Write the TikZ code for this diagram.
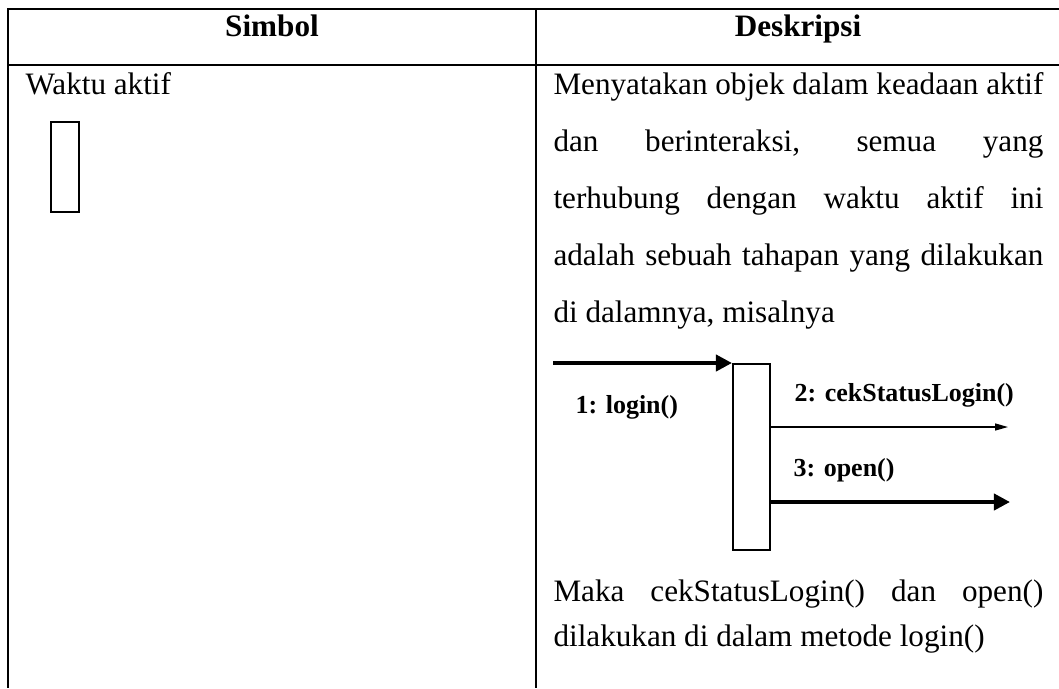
\documentclass[tikz,border=0pt]{standalone}
\usepackage{fontspec}
\setmainfont{Liberation Serif}
\usetikzlibrary{arrows.meta,positioning,calc}
\newcommand{\jl}[1]{\makebox[188.6pt][s]{#1}}

\begin{document}
\begin{tikzpicture}[x=0.385pt,y=-0.385pt,
    grid/.style={line width=0.8pt},
    body/.style={anchor=base west,inner sep=0pt,font=\fontsize{12}{14}\selectfont},
    head/.style={anchor=base,inner sep=0pt,font=\fontsize{12}{14}\selectfont\bfseries},
    msg/.style={anchor=base west,inner sep=0pt,font=\fontsize{10}{12}\selectfont\bfseries},
    call/.style={line width=1.5pt,-{Triangle[length=6.2pt,width=6.2pt]}},
    thincall/.style={line width=0.5pt,-{Triangle[length=5pt,width=2.7pt]}}]
  \useasboundingbox (0,0) rectangle (1059,688);
  % table
  \draw[grid] (1059,9) -- (8,9) -- (8,688);
  \draw[grid] (8,65) -- (1059,65);
  \draw[grid] (536,9) -- (536,688);
  \node[head] (hsym) at (272,36) {Simbol};
  \node[head] (hdes) at (798,36) {Deskripsi};
  % symbol column
  \node[body] (sym) at (25,94) {Waktu aktif};
  \draw[grid] (51,122) rectangle (79,212);
  % description column
  \node[body] (d1) at (553,94) {\jl{Menyatakan objek dalam keadaan aktif}};
  \node[body] (d2) at (553,151) {\jl{dan berinteraksi, semua yang}};
  \node[body] (d3) at (553,208) {\jl{terhubung dengan waktu aktif ini}};
  \node[body] (d4) at (553,265) {\jl{adalah sebuah tahapan yang dilakukan}};
  \node[body] (d5) at (553,322) {di dalamnya, misalnya};
  % example
  \node[draw,line width=0.65pt,inner sep=0pt,minimum width=14.2pt,minimum height=71.6pt,anchor=north west] (act) at (732,363) {};
  \coordinate (src) at (553,363);
  \coordinate (c2) at (1008,427);
  \coordinate (c3) at (1010,502);
  \draw[call] (src) -- (act.north west);
  \draw[thincall] (act.east |- c2) -- (c2);
  \draw[call] (act.east |- c3) -- (c3);
  \node[msg] (m1) at (575,413) {1: login()};
  \node[msg] (m2) at (794,401) {2: cekStatusLogin()};
  \node[msg] (m3) at (793,476) {3: open()};
  \node[body] (d6) at (553,601) {\jl{Maka cekStatusLogin() dan open()}};
  \node[body] (d7) at (553,646) {dilakukan di dalam metode login()};
\end{tikzpicture}
\end{document}
